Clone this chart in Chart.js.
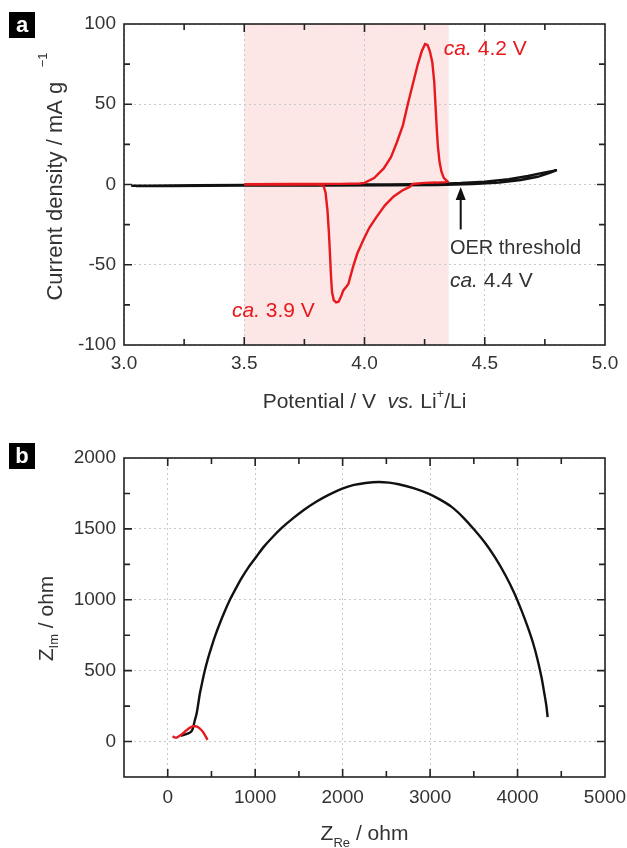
<!DOCTYPE html>
<html>
<head>
<meta charset="utf-8">
<script src="https://cdn.jsdelivr.net/npm/chart.js@4.4.1/dist/chart.umd.min.js"></script>
<style>
  html, body { margin: 0; padding: 0; background: #fff; }
  .panel { position: absolute; left: 0; width: 627px; height: 424px; }
  #panel-a { top: 0; }
  #panel-b { top: 424px; }
</style>
</head>
<body>
<div class="panel" id="panel-a"><canvas id="cv-chart" width="627" height="424"></canvas></div>
<div class="panel" id="panel-b"><canvas id="eis-chart" width="627" height="424"></canvas></div>
<script>
// (a) cyclic voltammograms, potential in V, current density in mA/g
const cvRedV = [3.50, 3.70, 3.90, 3.98, 4.00, 4.04, 4.08, 4.11, 4.134, 4.16, 4.18, 4.20, 4.22, 4.238, 4.252, 4.262, 4.272, 4.282, 4.29, 4.295, 4.30, 4.305, 4.312, 4.32, 4.33, 4.345,
  4.34, 4.30, 4.25, 4.20, 4.189, 4.16, 4.12, 4.085, 4.051, 4.02, 3.995, 3.97, 3.953, 3.94, 3.933, 3.925, 3.912, 3.902, 3.892, 3.882, 3.872, 3.865, 3.861, 3.857, 3.852, 3.846, 3.838, 3.829, 3.80, 3.65, 3.50];
const cvRedI = [0.2, 0.3, 0.4, 0.6, 1, 4, 10, 17, 26, 37, 50, 62, 74, 83, 87.5, 87, 83, 76, 64, 50, 36, 24, 14, 8, 4, 2,
  1.5, 1.2, 1.0, 0.3, -1.4, -3.5, -7.6, -13, -20, -27, -34.6, -43, -51, -58, -62, -63.5, -66, -70, -73, -73.5, -72, -67, -58, -45, -30, -16, -5, -0.5, 0, 0, 0];
const cvBlackV = [3.03, 3.1, 3.3, 3.5, 3.7, 3.9, 4.1, 4.3, 4.4, 4.5, 4.6, 4.68, 4.74, 4.8, 4.77, 4.72, 4.65, 4.56, 4.45, 4.3, 4.1, 3.8, 3.5, 3.2, 3.05];
const cvBlackI = [-0.8, -0.7, -0.5, -0.3, -0.2, 0, 0.1, 0.4, 0.9, 1.8, 3.3, 5.3, 7.2, 9.0, 7.2, 4.8, 2.8, 1.2, 0.3, -0.3, -0.5, -0.6, -0.7, -0.9, -1.0];
const cvXTicks = [3.0, 3.5, 4.0, 4.5, 5.0];
const cvYTicks = [-100, -50, 0, 50, 100];

// (b) Nyquist plots, ohm
const eisRedRe = [55, 75, 102, 125, 140, 160, 178, 205, 234, 260, 291, 320, 348, 378, 405, 430, 455];
const eisRedIm = [38, 30, 28, 36, 42, 50, 59, 75, 89, 100, 108, 108, 101, 85, 66, 40, 12];
const eisBlackRe = [150, 200, 250, 275, 291, 310, 330, 350, 367, 395, 424, 460, 500, 545, 594, 650, 708, 775, 841, 925, 1011, 1100, 1200, 1310, 1428, 1560, 1693, 1840, 1996, 2130, 2261, 2413,
  2530, 2640, 2810, 2981, 3110, 3246, 3380, 3511, 3630, 3739, 3860, 3966, 4045, 4117, 4180, 4231, 4275, 4307, 4330, 4344];
const eisBlackIm = [40, 50, 62, 75, 101, 150, 196, 270, 337, 420, 501, 585, 666, 750, 831, 915, 996, 1075, 1149, 1230, 1302, 1375, 1443, 1510, 1572, 1635, 1690, 1740, 1784, 1810, 1824, 1831,
  1826, 1815, 1788, 1749, 1708, 1655, 1580, 1490, 1400, 1302, 1175, 1043, 925, 807, 690, 572, 450, 337, 250, 172];
const eisXTicks = [0, 1000, 2000, 3000, 4000, 5000];
const eisYTicks = [0, 500, 1000, 1500, 2000];

const RED = "#e8191d";
const INK = "#111";
const FAMILY = "'Liberation Sans', Arial, sans-serif";
const font = (size, style) => (style ? style + " " : "") + size + "px " + FAMILY;

function points(xs, ys) {
  return xs.map((x, i) => ({ x: x, y: ys[i] }));
}

// draw a row of text pieces one after another (for italics / sub / superscripts)
function drawRuns(ctx, x, y, runs, align) {
  let total = 0;
  runs.forEach((r) => {
    ctx.font = r[1];
    total += ctx.measureText(r[0]).width;
  });
  let cx = align === "center" ? x - total / 2 : x;
  runs.forEach((r) => {
    ctx.font = r[1];
    ctx.fillText(r[0], cx, y + (r[2] || 0));
    cx += ctx.measureText(r[0]).width;
  });
}

function panelLabel(ctx, letter, top) {
  ctx.fillStyle = "#000";
  ctx.fillRect(9, top, 26, 26);
  ctx.fillStyle = "#fff";
  ctx.font = font(22, "bold");
  ctx.textAlign = "center";
  ctx.textBaseline = "alphabetic";
  ctx.fillText(letter, 22, top + 20);
  ctx.textAlign = "left";
}

// closed frame with inward major/minor ticks on all four sides
const frameTicks = {
  id: "frameTicks",
  afterDraw(chart, args, opts) {
    const { ctx, chartArea: a, scales } = chart;
    ctx.save();
    ctx.strokeStyle = "#222";
    ctx.lineWidth = 1.6;
    ctx.strokeRect(a.left, a.top, a.right - a.left, a.bottom - a.top);
    const isMajor = (scale, v) => scale.ticks.some((t) => Math.abs(t.value - v) < 1e-6);
    ctx.beginPath();
    for (let v = scales.x.min + opts.xMinor; v < scales.x.max - 1e-6; v += opts.xMinor) {
      const px = scales.x.getPixelForValue(v);
      const len = isMajor(scales.x, v) ? 8 : 6;
      ctx.moveTo(px, a.bottom);
      ctx.lineTo(px, a.bottom - len);
      ctx.moveTo(px, a.top);
      ctx.lineTo(px, a.top + len);
    }
    for (let v = scales.y.min + opts.yMinor; v < scales.y.max - 1e-6; v += opts.yMinor) {
      const py = scales.y.getPixelForValue(v);
      const len = isMajor(scales.y, v) ? 8 : 6;
      ctx.moveTo(a.left, py);
      ctx.lineTo(a.left + len, py);
      ctx.moveTo(a.right, py);
      ctx.lineTo(a.right - len, py);
    }
    ctx.stroke();
    ctx.restore();
  },
};

function axis(min, max, ticks, pad, fmt, fit) {
  return {
    type: "linear",
    min: min,
    max: max,
    afterBuildTicks: (scale) => {
      scale.ticks = ticks.map((v) => ({ value: v }));
    },
    afterFit: (scale) => {
      fit(scale);
      // keep the plot box fixed, labels may overhang into the margins
      scale.paddingLeft = scale.paddingRight = 0;
      scale.paddingTop = scale.paddingBottom = 0;
    },
    grid: { color: "#c9c9c9", lineWidth: 1, drawTicks: false },
    border: { display: false, dash: [2, 3] },
    ticks: {
      padding: pad,
      color: "#333",
      font: { family: FAMILY, size: 19 },
      callback: fmt,
    },
  };
}

// ---------- (a) ----------
const cvExtras = {
  id: "cvExtras",
  beforeDraw(chart) {
    const { ctx, chartArea: a, scales } = chart;
    const x0 = scales.x.getPixelForValue(3.5);
    const x1 = scales.x.getPixelForValue(4.35);
    ctx.save();
    ctx.fillStyle = "#fce6e6";
    ctx.fillRect(x0, a.top, x1 - x0, a.bottom - a.top);
    ctx.restore();
  },
  afterDraw(chart) {
    const { ctx, chartArea: a, scales } = chart;
    const x = scales.x, y = scales.y;
    ctx.save();
    ctx.textBaseline = "alphabetic";

    ctx.fillStyle = RED;
    drawRuns(ctx, x.getPixelForValue(4.33), y.getPixelForValue(80.5), [["ca.", font(21, "italic")], [" 4.2 V", font(21)]]);
    drawRuns(ctx, x.getPixelForValue(3.449), y.getPixelForValue(-82.7), [["ca.", font(21, "italic")], [" 3.9 V", font(21)]]);

    ctx.fillStyle = "#333";
    drawRuns(ctx, x.getPixelForValue(4.355), y.getPixelForValue(-43), [["OER threshold", font(20)]]);
    drawRuns(ctx, x.getPixelForValue(4.355), y.getPixelForValue(-64), [["ca.", font(21, "italic")], [" 4.4 V", font(21)]]);

    // arrow to the OER onset
    const ax = x.getPixelForValue(4.4);
    const tip = y.getPixelForValue(-1.5);
    const tail = y.getPixelForValue(-28);
    ctx.strokeStyle = "#111";
    ctx.fillStyle = "#111";
    ctx.lineWidth = 2;
    ctx.beginPath();
    ctx.moveTo(ax, tail);
    ctx.lineTo(ax, tip + 10);
    ctx.stroke();
    ctx.beginPath();
    ctx.moveTo(ax, tip);
    ctx.lineTo(ax - 5, tip + 13);
    ctx.lineTo(ax + 5, tip + 13);
    ctx.closePath();
    ctx.fill();

    // axis titles
    ctx.fillStyle = "#333";
    drawRuns(ctx, (a.left + a.right) / 2, a.bottom + 63, [
      ["Potential / V  ", font(21)],
      ["vs.", font(21, "italic")],
      [" Li", font(21)],
      ["+", font(13), -10],
      ["/Li", font(21)],
    ], "center");
    ctx.translate(a.left - 62, (a.top + a.bottom) / 2 - 8);
    ctx.rotate(-Math.PI / 2);
    drawRuns(ctx, 0, 0, [
      ["Current density / mA g", font(22)],
      ["    \u22121", font(13), -15],
    ], "center");
    ctx.restore();

    ctx.save();
    panelLabel(ctx, "a", 12);
    ctx.restore();
  },
};

new Chart(document.getElementById("cv-chart"), {
  type: "scatter",
  data: {
    datasets: [
      {
        label: "Red",
        data: points(cvRedV, cvRedI),
        showLine: true,
        borderColor: RED,
        borderWidth: 2.4,
        pointRadius: 0,
        tension: 0,
      },
      {
        label: "Black",
        data: points(cvBlackV, cvBlackI),
        showLine: true,
        borderColor: INK,
        borderWidth: 2.4,
        pointRadius: 0,
        tension: 0,
      },
    ],
  },
  options: {
    responsive: false,
    animation: false,
    devicePixelRatio: 1,
    layout: { padding: { left: 0, right: 22, top: 24, bottom: 0 } },
    plugins: { legend: { display: false }, tooltip: { enabled: false }, frameTicks: { xMinor: 0.25, yMinor: 25 } },
    scales: {
      x: axis(3.0, 5.0, cvXTicks, 7, (v) => Number(v).toFixed(1), (s) => { s.height = 79; }),
      y: axis(-100, 100, cvYTicks, 8, (v) => v, (s) => { s.width = 124; }),
    },
  },
  plugins: [cvExtras, frameTicks],
});

// ---------- (b) ----------
const eisExtras = {
  id: "eisExtras",
  afterDraw(chart) {
    const { ctx, chartArea: a } = chart;
    ctx.save();
    ctx.fillStyle = "#333";
    ctx.textBaseline = "alphabetic";
    drawRuns(ctx, (a.left + a.right) / 2, a.bottom + 63, [
      ["Z", font(21)],
      ["Re", font(13), 7],
      [" / ohm", font(21)],
    ], "center");
    ctx.translate(a.left - 71, (a.top + a.bottom) / 2 + 1);
    ctx.rotate(-Math.PI / 2);
    drawRuns(ctx, 0, 0, [
      ["Z", font(21)],
      ["Im", font(13), 5],
      [" / ohm", font(21)],
    ], "center");
    ctx.restore();

    ctx.save();
    panelLabel(ctx, "b", 19);
    ctx.restore();
  },
};

new Chart(document.getElementById("eis-chart"), {
  type: "scatter",
  data: {
    datasets: [
      {
        label: "Red",
        data: points(eisRedRe, eisRedIm),
        showLine: true,
        borderColor: RED,
        borderWidth: 2.4,
        pointRadius: 0,
        tension: 0.3,
      },
      {
        label: "Black",
        data: points(eisBlackRe, eisBlackIm),
        showLine: true,
        borderColor: INK,
        borderWidth: 2.4,
        pointRadius: 0,
        tension: 0.3,
      },
    ],
  },
  options: {
    responsive: false,
    animation: false,
    devicePixelRatio: 1,
    layout: { padding: { left: 0, right: 22, top: 34, bottom: 0 } },
    plugins: { legend: { display: false }, tooltip: { enabled: false }, frameTicks: { xMinor: 500, yMinor: 250 } },
    scales: {
      x: axis(-500, 5000, eisXTicks, 9, (v) => v, (s) => { s.height = 71; }),
      y: axis(-250, 2000, eisYTicks, 8, (v) => v, (s) => { s.width = 124; }),
    },
  },
  plugins: [eisExtras, frameTicks],
});
</script>
</body>
</html>
